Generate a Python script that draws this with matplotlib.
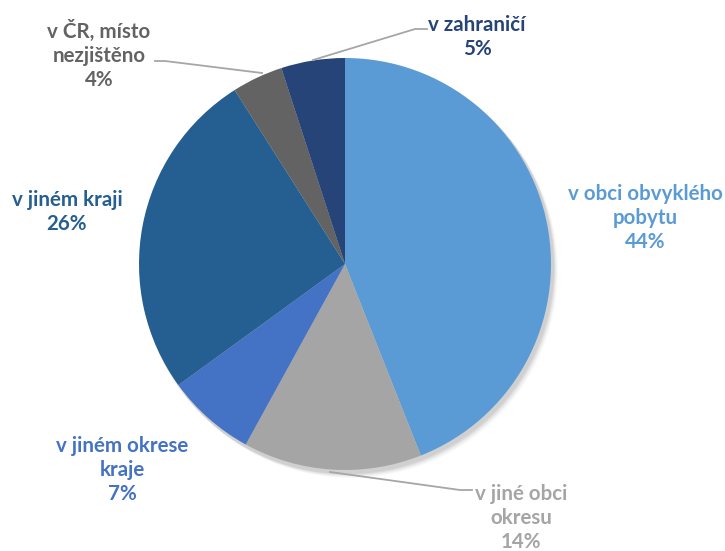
import matplotlib
matplotlib.use("Agg")
from matplotlib import pyplot as plt

# data
categories = ["v obci obvyklého\npobytu", "v jiné obci\nokresu", "v jiném okrese\nkraje",
              "v jiném kraji", "v ČR, místo\nnezjištěno", "v zahraničí"]
shares = [44, 14, 7, 26, 4, 5]
colors = ["#5B9BD5", "#A5A5A5", "#4472C4", "#255E91", "#636363", "#264478"]
text_colors = ["#5B9BD5", "#A5A5A5", "#4472C4", "#255E91", "#636363", "#264478"]

W, H = 725, 551


def py(y):
    # pixel row -> data y
    return H - y


# label centres in pixels (x, y)
label_pos = [(645, 218), (521, 518), (122, 470), (67, 212), (99, 55), (477, 37)]

fig = plt.figure(figsize=(7.25, 5.51), dpi=100)
ax = fig.add_axes([0, 0, 1, 1])

cx, cy, r = 345, 264, 206

# soft shadow
for i, a in enumerate([0.05, 0.05, 0.04, 0.03, 0.02]):
    sh = plt.Circle((cx + 2 + i, py(cy + 3 + i)), r + 1, color="black", alpha=a, lw=0)
    ax.add_patch(sh)

ax.pie(shares, colors=colors, startangle=90, counterclock=False,
       center=(cx, py(cy)), radius=r, wedgeprops=dict(linewidth=0))

for lab, v, col, (x, y) in zip(categories, shares, text_colors, label_pos):
    ax.text(x, py(y), "{}\n{}%".format(lab, v), ha="center", va="center", color=col,
            fontsize=14.8, fontweight="bold", family="Lato", linespacing=1.28)

# leader lines
lc = "#A6A6A6"
ax.plot([313, 415, 427], [py(60), py(29), py(29)], color=lc, lw=1.3)
ax.plot([155, 165, 262], [py(61), py(61), py(73)], color=lc, lw=1.3)
ax.plot([330, 460, 472], [py(472), py(490), py(490)], color=lc, lw=1.3)

ax.set_xlim(0, W)
ax.set_ylim(0, H)
ax.set_aspect("equal")
ax.axis("off")

plt.savefig("out.png", dpi=100, facecolor="white")
